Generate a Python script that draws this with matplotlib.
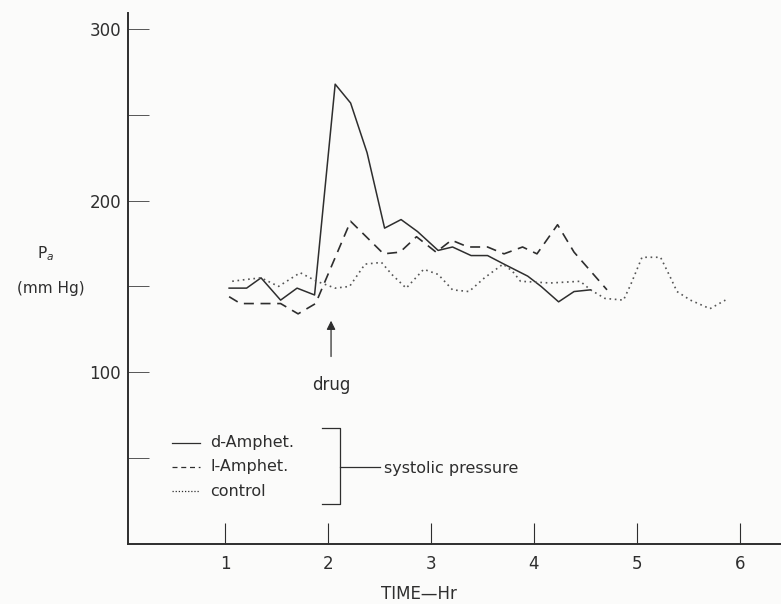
import matplotlib
matplotlib.use("Agg")
import matplotlib.pyplot as plt
from matplotlib.lines import Line2D

# ---- data ----
d_time = [1.04, 1.21, 1.35, 1.54, 1.70, 1.87, 2.07, 2.22, 2.38, 2.55, 2.71, 2.87, 3.07, 3.21,
          3.39, 3.55, 3.71, 3.94, 4.07, 4.24, 4.39, 4.55]
d_amphet = [149, 149, 155, 142, 149, 145, 268, 257, 228, 184, 189, 182, 171, 173,
            168, 168, 163, 156, 150, 141, 147, 148]

l_time = [1.04, 1.15, 1.54, 1.71, 1.88, 2.22, 2.54, 2.70, 2.86, 3.05, 3.20, 3.36, 3.55,
          3.71, 3.89, 4.03, 4.23, 4.39, 4.55, 4.71]
l_amphet = [144, 140, 140, 134, 140, 188, 169, 170, 179, 170, 177, 173, 173,
            169, 173, 169, 186, 170, 159, 148]

c_time = [1.07, 1.20, 1.35, 1.52, 1.73, 1.89, 2.07, 2.21, 2.36, 2.52, 2.62, 2.76, 2.93,
          3.07, 3.21, 3.37, 3.52, 3.70, 3.79, 3.87, 4.16, 4.45, 4.55, 4.69, 4.87, 4.94,
          5.05, 5.23, 5.32, 5.39, 5.52, 5.71, 5.86]
control = [153, 154, 155, 150, 158, 153, 149, 150, 163, 164, 157, 149, 160,
           157, 148, 147, 155, 163, 159, 153, 152, 153, 148, 143, 142, 151,
           167, 167, 156, 147, 142, 137, 142]

x_ticks = [1, 2, 3, 4, 5, 6]
y_major = [100, 200, 300]
y_minor = [50, 150, 250]

drug_time = 2.03

ink = "#2e2e2e"
plt.rcParams["font.family"] = ["DejaVu Sans"]

W, H = 781, 604
fig = plt.figure(figsize=(7.81, 6.04), dpi=100, facecolor="#fbfbfa")
ax = fig.add_axes([128/W, (H-543.5)/H, 1 - 128/W, (543.5-12.7)/H])
ax.set_facecolor("#fbfbfa")

ax.plot(d_time, d_amphet, color=ink, lw=1.1, ls="-")
ax.plot(l_time, l_amphet, color=ink, lw=1.2, ls=(0, (6, 4)))
ax.plot(c_time, control, color="#555555", lw=1.2, ls=(0, (1, 2.2)))

ax.set_xlim(0.058, 6.40)
ax.set_ylim(0, 309.7)

for s in ["top", "right"]:
    ax.spines[s].set_visible(False)
for s in ["left", "bottom"]:
    ax.spines[s].set_color(ink)
    ax.spines[s].set_linewidth(1.4)

ax.set_xticks(x_ticks)
ax.set_xticklabels([str(v) for v in x_ticks], fontsize=12, color=ink)
ax.tick_params(axis="x", direction="in", length=15, width=0.8, color=ink, pad=8)
ax.set_yticks(y_major)
ax.set_yticklabels([str(v) for v in y_major], fontsize=12, color=ink)
ax.set_yticks(y_minor, minor=True)
ax.tick_params(axis="y", which="both", direction="in", length=15, width=0.7,
               color="#555555", pad=5)

ax.set_xlabel("TIME—Hr", fontsize=12, color=ink, labelpad=9, x=(419-128)/(W-128))

# y-axis label
fig.text(46/W, 1 - 254/H, r"P$_a$", fontsize=11, color=ink, ha="center", va="center")
fig.text(51/W, 1 - 289/H, "(mm Hg)", fontsize=11, color=ink, ha="center", va="center")

# drug arrow
ax.annotate("drug", xy=(drug_time, 130), xytext=(drug_time, 92.5), fontsize=12, color=ink,
            ha="center", va="center",
            arrowprops=dict(arrowstyle="-|>", color=ink, lw=0.9, shrinkB=0, shrinkA=12,
                            mutation_scale=13))

# legend (manual)
rows = [(443, "d-Amphet.", "-"), (467, "l-Amphet.", (0, (4, 3))), (491, "control", (0, (1, 1.5)))]
for yy, lab, ls in rows:
    fy = 1 - yy/H
    fig.add_artist(Line2D([172/W, 200/W], [fy, fy], color=ink, lw=0.9, ls=ls))
    fig.text(210/W, fy, lab, fontsize=11.5, color=ink, va="center", ha="left")
# bracket
bx = 340/W
fig.add_artist(Line2D([322/W, bx, bx, 322/W], [1-428/H, 1-428/H, 1-504/H, 1-504/H],
                      color=ink, lw=0.9))
fig.add_artist(Line2D([bx, 380/W], [1-467/H, 1-467/H], color=ink, lw=0.9))
fig.text(384/W, 1-468/H, "systolic pressure", fontsize=11.5, color=ink, va="center", ha="left")

fig.savefig("out.png", dpi=100, facecolor=fig.get_facecolor())
